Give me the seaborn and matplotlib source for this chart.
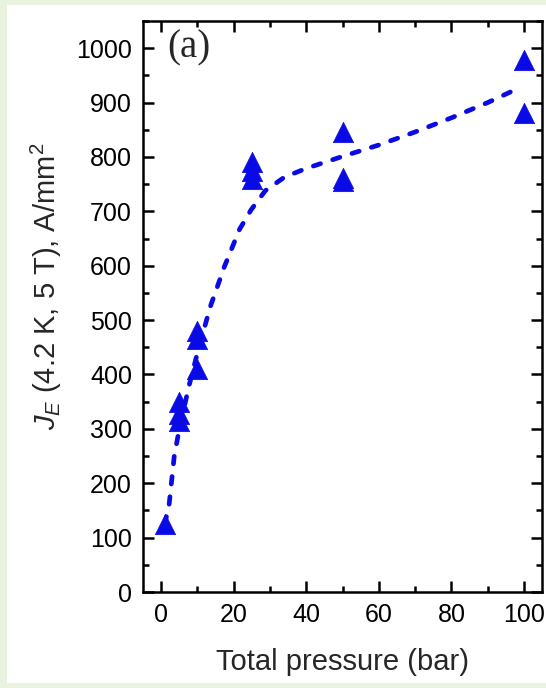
import numpy as np
import pandas as pd
import matplotlib
matplotlib.use("agg")
import matplotlib.pyplot as plt
from matplotlib.patches import Rectangle
from matplotlib.ticker import MultipleLocator
import seaborn as sns

# measured points (pressure in bar, J_E in A/mm^2)
pressure = [1, 5, 5, 5, 10, 10, 10, 25, 25, 25, 50, 50, 50, 100, 100]
je = [125, 350, 327, 315, 480, 465, 410, 790, 775, 760, 845, 762, 755, 978, 880]

# guide-to-the-eye dashed curve
fit_p = [1, 2.2, 3.6, 5, 7.7, 10, 13.5, 17.4, 21.6, 24.8, 28.7, 34, 40, 50, 60, 70, 80, 90, 99]
fit_je = [125, 162, 250, 300, 380, 440, 524, 598, 667, 703, 738, 763, 779, 801, 822, 846, 872, 900, 928]

BLUE = "#0a0ae6"

def main():
    sns.set_style("ticks")
    plt.rcParams["font.family"] = ["Liberation Sans", "DejaVu Sans"]
    plt.rcParams["mathtext.fontset"] = "custom"
    plt.rcParams["mathtext.rm"] = "Liberation Sans"
    plt.rcParams["mathtext.it"] = "Liberation Sans:italic"

    fig = plt.figure(figsize=(5.46, 6.88), dpi=100, facecolor="#e9f2df")
    fig.patches.append(Rectangle((7 / 546, 5 / 688), 1, 678 / 688,
                                 transform=fig.transFigure, facecolor="white",
                                 edgecolor="none", zorder=-10))
    ax = fig.add_axes([0.262, 0.1395, 0.731, 0.83])
    ax.set_zorder(5)

    df_pts = pd.DataFrame({"p": pressure, "je": je})
    df_fit = pd.DataFrame({"p": fit_p, "je": fit_je})

    sns.lineplot(data=df_fit, x="p", y="je", ax=ax, color=BLUE, linewidth=3.4,
                 sort=False, estimator=None, zorder=2)
    ax.lines[0].set_dashes((1.6, 2.7))
    ax.lines[0].set_dash_capstyle("round")
    sns.scatterplot(data=df_pts, x="p", y="je", ax=ax, marker="^", s=215,
                    color=BLUE, edgecolor=BLUE, linewidth=0.5, zorder=3)

    ax.set_xlim(-5, 105)
    ax.set_ylim(0, 1050)
    ax.xaxis.set_major_locator(MultipleLocator(20))
    ax.xaxis.set_minor_locator(MultipleLocator(10))
    ax.yaxis.set_major_locator(MultipleLocator(100))
    ax.yaxis.set_minor_locator(MultipleLocator(50))
    ax.tick_params(which="both", direction="in", top=True, right=True,
                   width=1.8, colors="black")
    ax.tick_params(which="major", length=8, labelsize=18, pad=8)
    ax.tick_params(which="minor", length=4)
    for s in ax.spines.values():
        s.set_linewidth(1.8)
        s.set_color("black")

    ax.set_xlabel("Total pressure (bar)", fontsize=21, labelpad=15)
    ax.set_ylabel(r"$J_E$ (4.2 K, 5 T), A/mm$^2$", fontsize=21)
    ax.yaxis.set_label_coords(-0.197, 0.535)
    ax.text(0.06, 1000, "(a)", transform=ax.get_yaxis_transform(), ha="left",
            va="center", fontsize=28, family="Liberation Serif")

    fig.savefig("out.png", dpi=100, facecolor=fig.get_facecolor())
    plt.close(fig)

if __name__ == "__main__":
    main()
